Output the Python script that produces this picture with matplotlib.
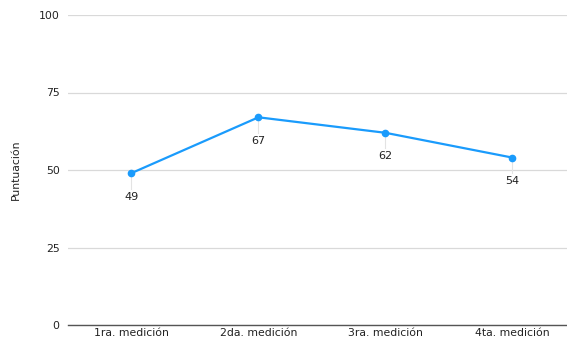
import matplotlib.pyplot as plt

categories = ["1ra. medición", "2da. medición", "3ra. medición", "4ta. medición"]
scores = [49, 67, 62, 54]
yticks = [0, 25, 50, 75, 100]

BLUE = "#1a9bfc"

fig = plt.figure(figsize=(5.67, 3.42), dpi=100)
ax = fig.add_axes([68 / 567, 17 / 342, 1 - 68 / 567, 310 / 342])

x = list(range(len(categories)))
ax.plot(x, scores, color=BLUE, linewidth=1.6, marker="o", markersize=4.5, zorder=4,
        clip_on=False)

for xi, v in zip(x, scores):
    # faint leader line below the point
    ax.plot([xi, xi], [v, v - 5], color="#e3e3e3", linewidth=0.8, zorder=3)
    ax.annotate(str(v), (xi, v), xytext=(0, -17), textcoords="offset points",
                ha="center", va="center", fontsize=8, color="#222222")

ax.set_xlim(-0.5, 3.43)
ax.set_ylim(0, 100)
ax.set_yticks(yticks)
ax.set_xticks(x)
ax.set_xticklabels(categories)
ax.grid(axis="y", color="#d9d9d9", linewidth=0.9)
ax.set_axisbelow(True)
for side in ["top", "right", "left"]:
    ax.spines[side].set_visible(False)
ax.spines["bottom"].set_color("#555555")
ax.spines["bottom"].set_linewidth(1.0)
ax.tick_params(axis="both", length=0, labelsize=7.8, colors="#222222")
ax.tick_params(axis="y", pad=6)
ax.tick_params(axis="x", pad=2)
ax.set_ylabel("Puntuación", fontsize=7.8, color="#222222", labelpad=13)

fig.savefig("out.png", dpi=100)
